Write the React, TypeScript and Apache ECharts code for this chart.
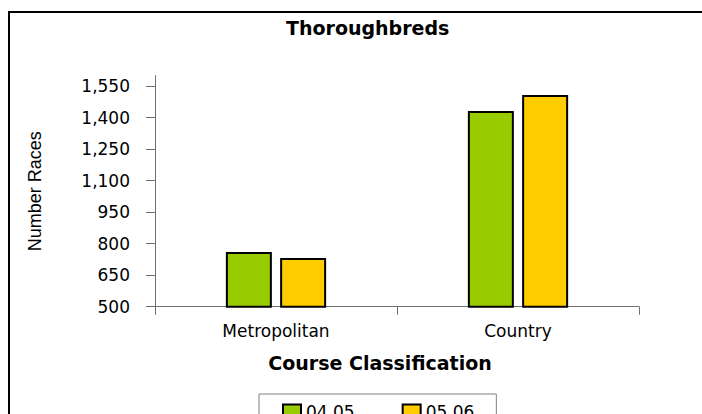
import React, { useEffect, useRef } from "react";
import * as echarts from "echarts";

const categories = ["Metropolitan", "Country"];
const seriesNames = ["04.05", "05.06"];
const values0405 = [760, 1432];
const values0506 = [732, 1508];
const yTicks = [500, 650, 800, 950, 1100, 1250, 1400, 1550];
const colors = ["#99CC00", "#FFCC00"];

export default function App() {
  const ref = useRef<HTMLDivElement>(null);
  useEffect(() => {
    document.body.style.margin = "0";
    document.body.style.overflow = "hidden";
    if (!ref.current) return;
    const chart = echarts.init(ref.current, null, { renderer: "svg" });
    const font = "DejaVu Sans";
    chart.setOption({
      animation: false,
      backgroundColor: "#ffffff",
      title: {
        text: "Thoroughbreds",
        left: 286,
        top: 18,
        padding: 0,
        textStyle: { fontFamily: font, fontSize: 19, fontWeight: "bold", color: "#000" },
      },
      legend: {
        data: seriesNames,
        left: 259,
        top: 394,
        padding: [9, 22, 9, 23],
        itemWidth: 18,
        itemHeight: 14,
        itemGap: 47,
        borderColor: "#808080",
        borderWidth: 1,
        icon: "rect",
        textStyle: { fontFamily: font, fontSize: 17, color: "#000" },
      },
      grid: { left: 155, right: 63, top: 75.7, bottom: 107.3 },
      xAxis: {
        type: "category",
        data: categories,
        boundaryGap: true,
        name: "Course Classification",
        nameLocation: "middle",
        nameGap: 47,
        nameTextStyle: {
          fontFamily: font,
          fontSize: 19,
          fontWeight: "bold",
          color: "#000",
          padding: [0, 34, 0, 0],
        },
        axisLine: { lineStyle: { color: "#707070", width: 1 } },
        axisTick: { show: true, length: 8, interval: 0, lineStyle: { color: "#707070" } },
        axisLabel: { fontFamily: font, fontSize: 17, color: "#000", margin: 16, interval: 0 },
        splitLine: { show: false },
      },
      yAxis: {
        type: "value",
        min: 500,
        max: 1600,
        interval: 150,
        name: "Number Races",
        nameLocation: "middle",
        nameGap: 111,
        nameRotate: 90,
        nameTextStyle: { fontFamily: "Liberation Sans", fontSize: 18, color: "#000" },
        axisLine: { show: true, lineStyle: { color: "#707070", width: 1 } },
        axisTick: { show: true, length: 9, customValues: yTicks, lineStyle: { color: "#707070" } },
        axisLabel: {
          fontFamily: font,
          fontSize: 17,
          color: "#000",
          margin: 25,
          customValues: yTicks,
          formatter: (v: number) => v.toLocaleString("en-US"),
        },
        splitLine: { show: false },
      },
      graphic: [
        {
          type: "rect",
          shape: { x: 9, y: 12, width: 1000, height: 1000 },
          style: { fill: "none", stroke: "#000", lineWidth: 2 },
          silent: true,
          z: 100,
        },
      ],
      series: [
        {
          name: seriesNames[0],
          type: "bar",
          data: values0405,
          barWidth: 46,
          barGap: "18%",
          itemStyle: { color: colors[0], borderColor: "#000", borderWidth: 2 },
        },
        {
          name: seriesNames[1],
          type: "bar",
          data: values0506,
          barWidth: 46,
          barGap: "18%",
          itemStyle: { color: colors[1], borderColor: "#000", borderWidth: 2 },
        },
      ],
    });
    return () => chart.dispose();
  }, []);
  return <div ref={ref} style={{ width: 702, height: 414 }} />;
}
